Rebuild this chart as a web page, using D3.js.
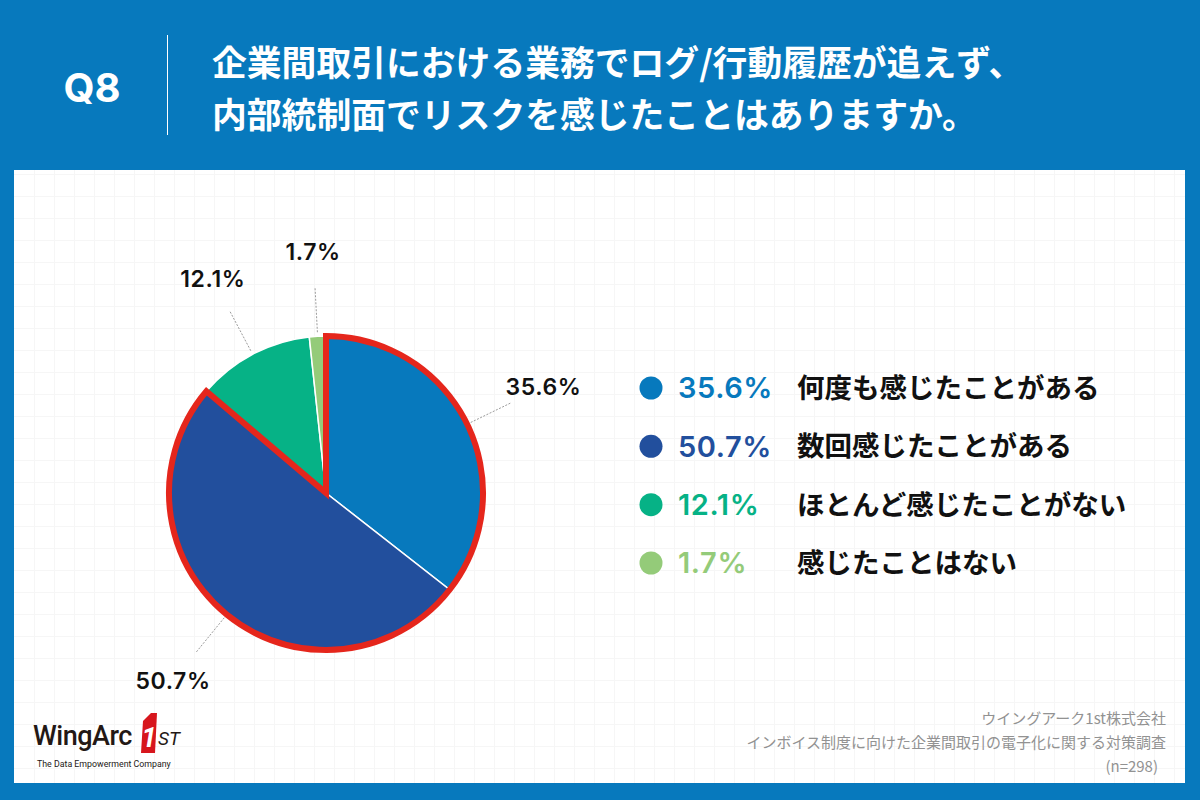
<!DOCTYPE html>
<html>
<head>
<meta charset="utf-8">
<script src="https://cdn.jsdelivr.net/npm/d3@7"></script>
<style>
  body { margin: 0; background: #fff; }
  svg { display: block; }
  .jp { font-family: "Noto Sans CJK JP", "Noto Sans", sans-serif; }
  .num { font-family: "Inter", "DejaVu Sans", sans-serif; }
</style>
</head>
<body>
<svg width="1200" height="800"></svg>
<script>
// Chart data
const categories = ["何度も感じたことがある", "数回感じたことがある", "ほとんど感じたことがない", "感じたことはない"];
const values = [35.6, 50.7, 12.1, 1.7];
const colors = ["#0779bd", "#224f9d", "#06b286", "#94cb79"];
const highlighted = [0, 1]; // slices wrapped by the red outline

const titleLines = ["企業間取引における業務でログ/行動履歴が追えず、", "内部統制面でリスクを感じたことはありますか。"];
const sourceLines = ["ウイングアーク1st株式会社", "インボイス制度に向けた企業間取引の電子化に関する対策調査", "(n=298)"];

const W = 1200, H = 800;
const svg = d3.select("svg");

// Blue frame + white panel
svg.append("rect").attr("width", W).attr("height", H).attr("fill", "#0779bd");
const panel = { x: 14, y: 170, w: 1171, h: 613 };
svg.append("rect")
  .attr("x", panel.x).attr("y", panel.y)
  .attr("width", panel.w).attr("height", panel.h)
  .attr("fill", "#fff");

// faint background grid
const grid = svg.append("g").attr("stroke", "#f6f6f6").attr("stroke-width", 1);
grid.selectAll("line.v")
  .data(d3.range(panel.x + 20, panel.x + panel.w, 20))
  .join("line")
  .attr("x1", d => d + 0.5).attr("x2", d => d + 0.5)
  .attr("y1", panel.y).attr("y2", panel.y + panel.h);
grid.selectAll("line.h")
  .data(d3.range(panel.y + 4, panel.y + panel.h, 22))
  .join("line")
  .attr("y1", d => d + 0.5).attr("y2", d => d + 0.5)
  .attr("x1", panel.x).attr("x2", panel.x + panel.w);

// Header
svg.append("text")
  .attr("class", "num")
  .attr("x", 92).attr("y", 102)
  .attr("text-anchor", "middle")
  .attr("fill", "#fff")
  .style("font-size", "40px").style("font-weight", 700)
  .text("Q8");
svg.append("line")
  .attr("x1", 167.5).attr("x2", 167.5)
  .attr("y1", 35).attr("y2", 135)
  .attr("stroke", "#fff").attr("stroke-width", 1);
svg.append("g").selectAll("text")
  .data(titleLines)
  .join("text")
  .attr("class", "jp")
  .attr("x", 212)
  .attr("y", (d, i) => 76 + i * 52)
  .attr("fill", "#fff")
  .style("font-size", "34.8px").style("font-weight", 700)
  .text(d => d);

// Pie
const cx = 326, cy = 493, r = 157;
const pie = d3.pie().sort(null).value(d => d);
const arcs = pie(values);
const arc = d3.arc().innerRadius(0).outerRadius(r);
const g = svg.append("g").attr("transform", `translate(${cx},${cy})`);

g.selectAll("path.slice")
  .data(arcs)
  .join("path")
  .attr("class", "slice")
  .attr("d", arc)
  .attr("fill", (d, i) => colors[i])
  .attr("stroke", "#fff")
  .attr("stroke-width", 1.5);

// red outline around highlighted slices
const hlStart = d3.min(highlighted, i => arcs[i].startAngle);
const hlEnd = d3.max(highlighted, i => arcs[i].endAngle);
g.append("path")
  .attr("d", arc({ startAngle: hlStart, endAngle: hlEnd }))
  .attr("fill", "none")
  .attr("stroke", "#e5261c")
  .attr("stroke-width", 6)
  .attr("stroke-linejoin", "miter");

// leader lines + value labels
const leaderIn = d3.arc().innerRadius(161).outerRadius(161);
const leaderOut = d3.arc().innerRadius(205).outerRadius(205);
const labelArc = d3.arc().innerRadius(242).outerRadius(242);
g.selectAll("line.leader")
  .data(arcs)
  .join("line")
  .attr("class", "leader")
  .attr("x1", d => leaderIn.centroid(d)[0])
  .attr("y1", d => leaderIn.centroid(d)[1])
  .attr("x2", d => leaderOut.centroid(d)[0])
  .attr("y2", d => leaderOut.centroid(d)[1])
  .attr("stroke", "#9a9a9a")
  .attr("stroke-width", 1)
  .attr("stroke-dasharray", "2,1.5");
g.selectAll("text.val")
  .data(arcs)
  .join("text")
  .attr("class", "val num")
  .attr("x", d => labelArc.centroid(d)[0])
  .attr("y", d => labelArc.centroid(d)[1])
  .attr("text-anchor", "middle")
  .attr("dy", "0.36em")
  .attr("fill", "#111")
  .style("font-size", "23px").style("font-weight", 600)
  .style("letter-spacing", "0.6px")
  .text(d => d.value.toFixed(1) + "%");

// Legend
const ly = d3.scalePoint().domain(d3.range(categories.length)).range([388, 563]);
const legend = svg.append("g").selectAll("g")
  .data(categories)
  .join("g")
  .attr("transform", (d, i) => `translate(0,${ly(i)})`);
legend.append("circle")
  .attr("cx", 651).attr("cy", 0).attr("r", 11.5)
  .attr("fill", (d, i) => colors[i]);
legend.append("text")
  .attr("class", "num")
  .attr("x", 678).attr("dy", "0.36em")
  .attr("fill", (d, i) => colors[i])
  .style("font-size", "29px").style("font-weight", 600)
  .style("letter-spacing", "0.6px")
  .text((d, i) => values[i].toFixed(1) + "%");
legend.append("text")
  .attr("class", "jp")
  .attr("x", 797).attr("dy", "0.36em")
  .attr("fill", "#111")
  .style("font-size", "27.5px").style("font-weight", 700)
  .text(d => d);

// Source note
svg.append("g").selectAll("text")
  .data(sourceLines)
  .join("text")
  .attr("class", "jp")
  .attr("x", (d, i) => i === 2 ? 1158 : 1166)
  .attr("y", (d, i) => 724 + i * 24)
  .attr("text-anchor", "end")
  .attr("fill", "#929292")
  .style("font-size", "15px")
  .text(d => d);

// Logo
const logo = svg.append("g");
logo.append("text")
  .attr("x", 33).attr("y", 745)
  .attr("fill", "#231815")
  .style("font-family", "'Roboto', sans-serif")
  .style("font-size", "27px").style("font-weight", 500)
  .style("letter-spacing", "-0.5px")
  .text("WingArc");
logo.append("path")
  .attr("d", "M143,721 L151,713 L157,713 L155,753 L141,753 Z")
  .attr("fill", "#d7161d");
logo.append("text")
  .attr("x", 149).attr("y", 747)
  .attr("text-anchor", "middle")
  .attr("fill", "#fff")
  .style("font-family", "'Roboto', sans-serif")
  .style("font-size", "27px").style("font-weight", 700)
  .style("font-style", "italic")
  .text("1");
logo.append("text")
  .attr("x", 158).attr("y", 745)
  .attr("fill", "#231815")
  .style("font-family", "'Roboto', sans-serif")
  .style("font-size", "19px").style("font-style", "italic")
  .text("ST");
logo.append("text")
  .attr("x", 37).attr("y", 767)
  .attr("fill", "#231815")
  .style("font-family", "'Roboto', sans-serif")
  .style("font-size", "8.8px")
  .text("The Data Empowerment Company");
</script>
</body>
</html>
